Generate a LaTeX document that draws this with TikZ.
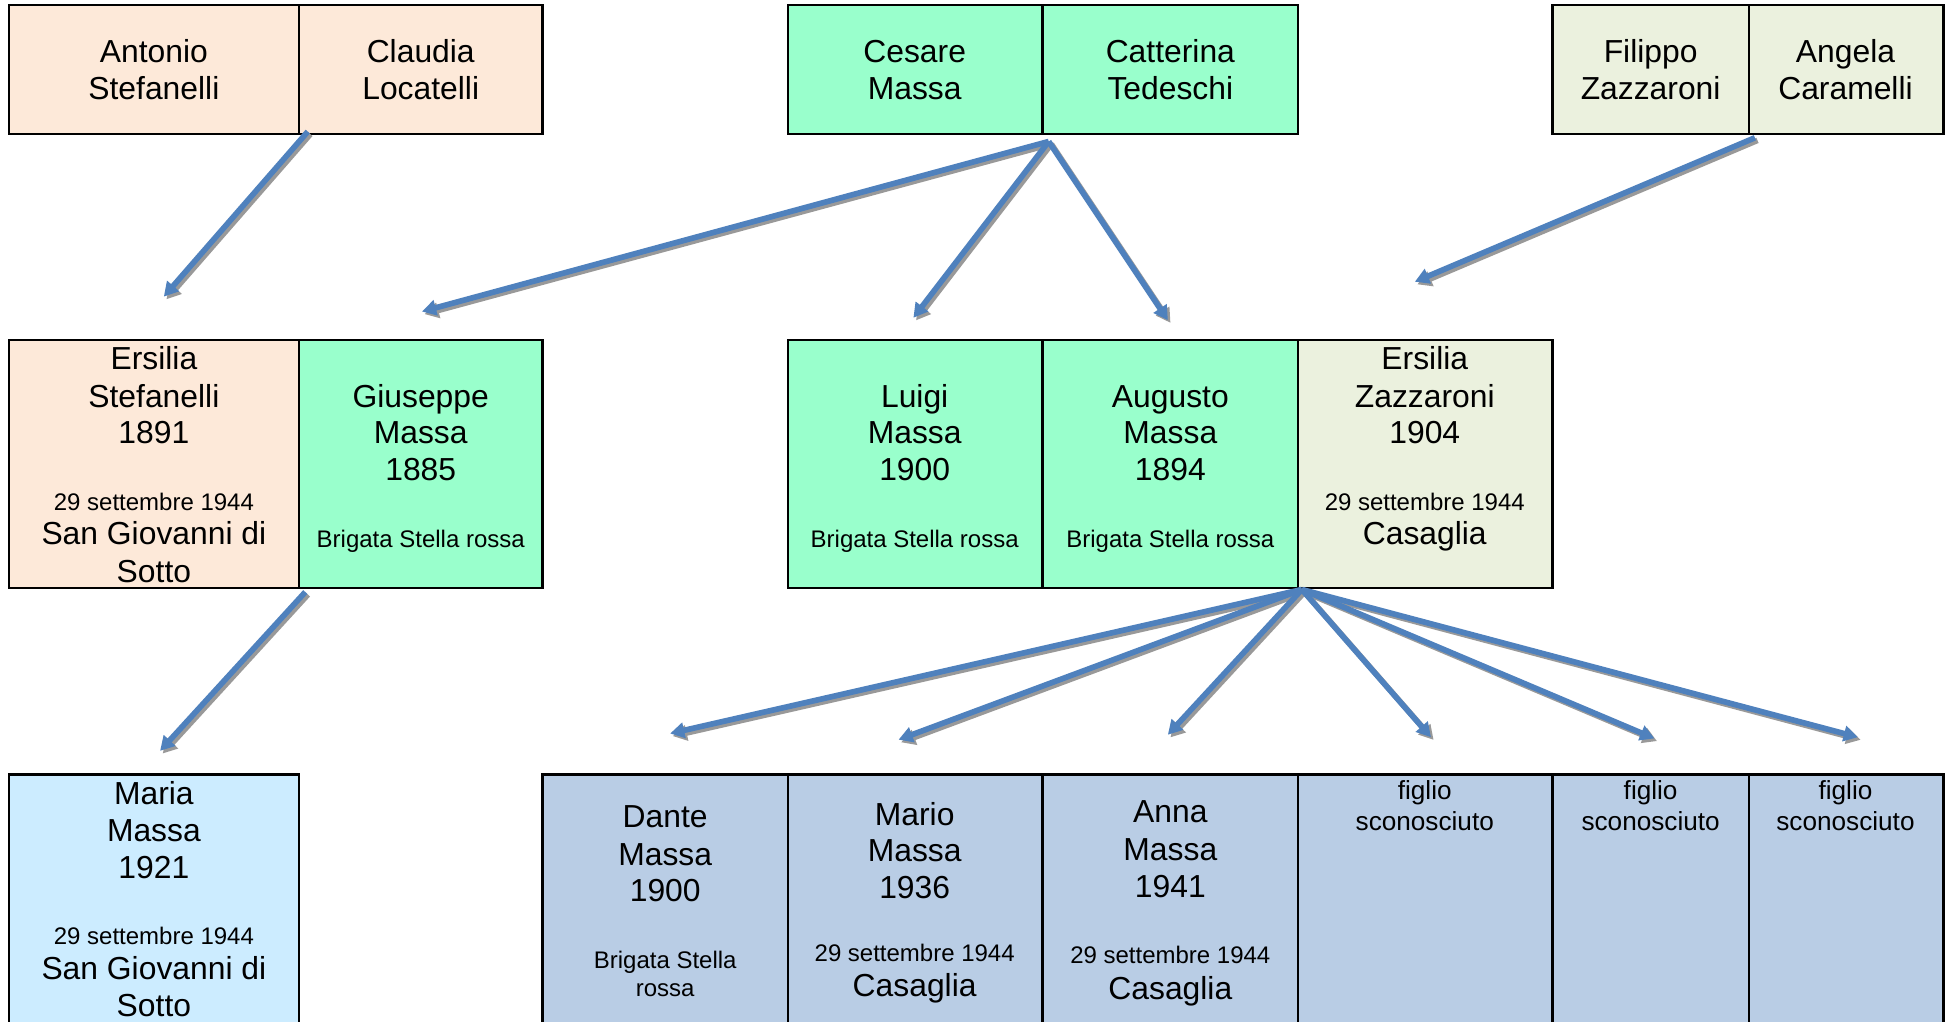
\documentclass[tikz,border=0pt]{standalone}
\usepackage{fontspec}
\setmainfont{Liberation Sans}
\usetikzlibrary{arrows.meta,fit}
\definecolor{peach}{HTML}{FDE9D9}
\definecolor{mint}{HTML}{99FFCC}
\definecolor{lgreen}{HTML}{EBF1DE}
\definecolor{lblue}{HTML}{CCECFF}
\definecolor{bgrey}{HTML}{B9CDE5}
\definecolor{arrowblue}{HTML}{4F81BD}
\definecolor{shadowgrey}{HTML}{999999}
\newcommand\fL{\fontsize{14.6}{17}\selectfont}
\newcommand\fS{\fontsize{11}{13}\selectfont}
\newcommand\fM{\fontsize{12}{14}\selectfont}
\begin{document}
\begin{tikzpicture}[x=0.02cm,y=-0.02cm,
  cell/.style={draw=black, line width=1.05pt, inner sep=0pt},
  txt/.style={anchor=base, inner sep=0pt},
  arr/.style={draw=arrowblue, line width=2.6pt, -{Triangle[length=6.5pt,width=7pt]}},
  arrshadow/.style={draw=shadowgrey, line width=2.6pt, -{Triangle[length=6.5pt,width=7pt]}, transform canvas={shift={(1.2pt,-1.2pt)}}}]
\useasboundingbox (0,0) rectangle (1568,823);
\fill[white] (0,0) rectangle (1568,823);
% cells
\foreach \nm/\xa/\ya/\xb/\yb/\col in {
  a1/7/4/241/108/peach, a2/241/4/437/108/peach,
  b1/635/4/840/108/mint, b2/840/4/1046/108/mint,
  c1/1251/4/1409/108/lgreen, c2/1409/4/1566/108/lgreen,
  d1/7/274/241/474/peach, d2/241/274/437/474/mint,
  e1/635/274/840/474/mint, e2/840/274/1046/474/mint, e3/1046/274/1251/474/lgreen,
  f1/7/624/241/845/lblue,
  g1/437/624/635/845/bgrey, g2/635/624/840/845/bgrey, g3/840/624/1046/845/bgrey,
  g4/1046/624/1251/845/bgrey, g5/1251/624/1409/845/bgrey, g6/1409/624/1566/845/bgrey}
  { \node[cell, fill=\col, fit={(\xa,\ya) (\xb,\yb)}] (\nm) {}; }
% texts
\foreach \xx/\yy/\ff/\txt [count=\n] in {
  124/50/\fL/Antonio, 124/80/\fL/Stefanelli,
  339/50/\fL/Claudia, 339/80/\fL/Locatelli,
  737/50/\fL/Cesare, 737/80/\fL/Massa,
  943/50/\fL/Catterina, 943/80/\fL/Tedeschi,
  1330/50/\fL/Filippo, 1330/80/\fL/Zazzaroni,
  1487/50/\fL/Angela, 1487/80/\fL/Caramelli,
  124/298/\fL/Ersilia, 124/328/\fL/Stefanelli, 124/357/\fL/1891,
  124/411/\fS/29 settembre 1944, 124/439/\fL/San Giovanni di, 124/469/\fL/Sotto,
  339/328/\fL/Giuseppe, 339/357/\fL/Massa, 339/387/\fL/1885, 339/441/\fS/Brigata Stella rossa,
  737/328/\fL/Luigi, 737/357/\fL/Massa, 737/387/\fL/1900, 737/441/\fS/Brigata Stella rossa,
  943/328/\fL/Augusto, 943/357/\fL/Massa, 943/387/\fL/1894, 943/441/\fS/Brigata Stella rossa,
  1148/298/\fL/Ersilia, 1148/328/\fL/Zazzaroni, 1148/357/\fL/1904,
  1148/411/\fS/29 settembre 1944, 1148/439/\fL/Casaglia,
  124/648/\fL/Maria, 124/678/\fL/Massa, 124/708/\fL/1921,
  124/761/\fS/29 settembre 1944, 124/789/\fL/San Giovanni di, 124/819/\fL/Sotto,
  536/667/\fL/Dante, 536/697/\fL/Massa, 536/726/\fL/1900,
  536/780/\fS/Brigata Stella, 536/803/\fS/rossa,
  737/665/\fL/Mario, 737/694/\fL/Massa, 737/724/\fL/1936,
  737/775/\fS/29 settembre 1944, 737/803/\fL/Casaglia,
  943/663/\fL/Anna, 943/693/\fL/Massa, 943/723/\fL/1941,
  943/776/\fS/29 settembre 1944, 943/805/\fL/Casaglia,
  1148/644/\fM/figlio, 1148/669/\fM/sconosciuto,
  1330/644/\fM/figlio, 1330/669/\fM/sconosciuto,
  1487/644/\fM/figlio, 1487/669/\fM/sconosciuto}
  { \node[txt] (t\n) at (\xx,\yy) {\ff \txt}; }
% arrow end points
\coordinate (s1) at (248,106);
\coordinate (e1) at (132,239);
\coordinate (s2) at (845,114);
\coordinate (e2a) at (340,251);
\coordinate (e2b) at (736,256);
\coordinate (e2c) at (941,258);
\coordinate (s3) at (1414,111);
\coordinate (e3) at (1140,227);
\coordinate (s4) at (246,477);
\coordinate (e4) at (129,605);
\coordinate (s5) at (1049,475);
\coordinate (e5a) at (540,591);
\coordinate (e5b) at (724,596);
\coordinate (e5c) at (941,592);
\coordinate (e5d) at (1153,594);
\coordinate (e5e) at (1333,595);
\coordinate (e5f) at (1497,594);
\foreach \s/\e in {s1/e1, s2/e2a, s2/e2b, s2/e2c, s3/e3, s4/e4,
  s5/e5a, s5/e5b, s5/e5c, s5/e5d, s5/e5e, s5/e5f}
  { \draw[arrshadow] (\s) -- (\e); }
\foreach \s/\e in {s1/e1, s2/e2a, s2/e2b, s2/e2c, s3/e3, s4/e4,
  s5/e5a, s5/e5b, s5/e5c, s5/e5d, s5/e5e, s5/e5f}
  { \draw[arr] (\s) -- (\e); }
\end{tikzpicture}
\end{document}
